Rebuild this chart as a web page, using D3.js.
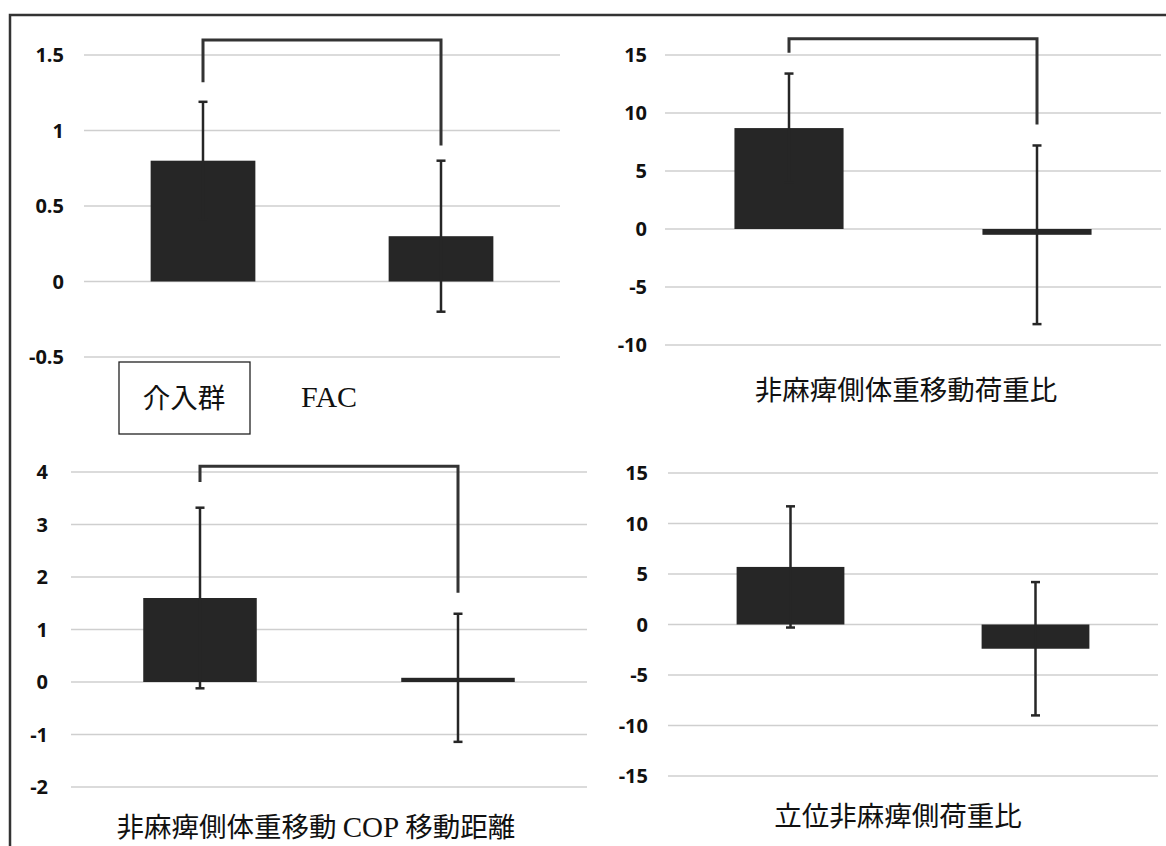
<!DOCTYPE html>
<html>
<head>
<meta charset="utf-8">
<script src="https://cdn.jsdelivr.net/npm/d3@7"></script>
<style>
    body { margin: 0; background: #fff; }
    .tick-label { font-family: "Open Sans", Lato, sans-serif; font-weight: 700; font-size: 20px; fill: #111; }
    .cjk { font-family: "Noto Sans CJK JP", sans-serif; font-size: 27.5px; fill: #111; }
    .serif { font-family: "Liberation Serif", serif; }
</style>
</head>
<body>
<div id="chart"></div>
<script>
// two groups in every panel (no axis labels in the original)
const groups = ['group1', 'group2'];

// FAC
const facMeans = [0.8, 0.3];
const facSD = [0.39, 0.5];
const facTicks = [-0.5, 0, 0.5, 1, 1.5];
const facBracket = [1.32, 1.6, 0.9];

// 非麻痺側体重移動荷重比
const shiftLoadMeans = [8.7, -0.5];
const shiftLoadSD = [4.7, 7.7];
const shiftLoadTicks = [-10, -5, 0, 5, 10, 15];
const shiftLoadBracket = [15.2, 16.4, 9.0];

// 非麻痺側体重移動 COP 移動距離
const copMeans = [1.6, 0.08];
const copSD = [1.72, 1.22];
const copTicks = [-2, -1, 0, 1, 2, 3, 4];
const copBracket = [3.81, 4.11, 1.7];

// 立位非麻痺側荷重比
const standMeans = [5.7, -2.4];
const standSD = [6.0, 6.6];
const standTicks = [-15, -10, -5, 0, 5, 10, 15];

const ink = '#262626';

const svg = d3.select('#chart')
    .append('svg')
    .attr('width', 1166)
    .attr('height', 846);

// outer frame (only top and left edges show in the scan)
svg.append('path')
    .attr('d', 'M10,846 L10,15 L1166,15')
    .attr('fill', 'none')
    .attr('stroke', '#333')
    .attr('stroke-width', 2.5);

function drawPanel(opt) {
    const y = d3.scaleLinear()
        .domain(d3.extent(opt.ticks))
        .range([opt.y1, opt.y0]);

    const x = d3.scalePoint()
        .domain(groups)
        .range([opt.x0, opt.x1])
        .padding(0.5);

    const barW = x.step() * 0.44;
    const g = svg.append('g');

    // gridlines
    g.selectAll('.grid')
        .data(opt.ticks)
        .enter()
        .append('line')
        .attr('x1', opt.x0)
        .attr('x2', opt.x1)
        .attr('y1', d => y(d))
        .attr('y2', d => y(d))
        .attr('stroke', '#cfcfcf')
        .attr('stroke-width', 1.5);

    // tick labels
    g.selectAll('.tick-label')
        .data(opt.ticks)
        .enter()
        .append('text')
        .attr('class', 'tick-label')
        .attr('x', opt.labelX)
        .attr('y', d => y(d))
        .attr('dy', '0.35em')
        .attr('text-anchor', 'end')
        .text(d => String(d));

    const data = groups.map((k, i) => ({ key: k, mean: opt.means[i], sd: opt.sd[i] }));

    // bars
    g.selectAll('.bar')
        .data(data)
        .enter()
        .append('rect')
        .attr('x', d => x(d.key) - barW / 2)
        .attr('width', barW)
        .attr('y', d => y(Math.max(0, d.mean)))
        .attr('height', d => Math.abs(y(d.mean) - y(0)))
        .attr('fill', ink);

    // error bars
    const err = g.selectAll('.err')
        .data(data)
        .enter()
        .append('g')
        .attr('stroke', ink)
        .attr('stroke-width', 2.5);

    err.append('line')
        .attr('x1', d => x(d.key))
        .attr('x2', d => x(d.key))
        .attr('y1', d => y(d.mean + d.sd))
        .attr('y2', d => y(d.mean - d.sd));

    err.selectAll('.cap')
        .data(d => [{ key: d.key, v: d.mean + d.sd }, { key: d.key, v: d.mean - d.sd }])
        .enter()
        .append('line')
        .attr('x1', d => x(d.key) - 4.5)
        .attr('x2', d => x(d.key) + 4.5)
        .attr('y1', d => y(d.v))
        .attr('y2', d => y(d.v));

    // significance bracket
    if (opt.bracket) {
        const b = opt.bracket;
        const xa = x(groups[0]), xb = x(groups[1]);
        g.append('path')
            .attr('d', `M${xa},${y(b[0])} L${xa},${y(b[1])} L${xb},${y(b[1])} L${xb},${y(b[2])}`)
            .attr('fill', 'none')
            .attr('stroke', '#333')
            .attr('stroke-width', 3);
    }
    return g;
}

drawPanel({ means: facMeans, sd: facSD, ticks: facTicks, bracket: facBracket,
    x0: 84, x1: 560, y0: 55, y1: 357, labelX: 64 });
drawPanel({ means: shiftLoadMeans, sd: shiftLoadSD, ticks: shiftLoadTicks, bracket: shiftLoadBracket,
    x0: 665, x1: 1161, y0: 55, y1: 345, labelX: 647 });
drawPanel({ means: copMeans, sd: copSD, ticks: copTicks, bracket: copBracket,
    x0: 71, x1: 587, y0: 472, y1: 787, labelX: 48 });
drawPanel({ means: standMeans, sd: standSD, ticks: standTicks,
    x0: 668, x1: 1158, y0: 473, y1: 776, labelX: 648 });

// legend box + FAC title
svg.append('rect')
    .attr('x', 119).attr('y', 362)
    .attr('width', 131).attr('height', 72)
    .attr('fill', '#fff')
    .attr('stroke', '#222')
    .attr('stroke-width', 1.3);

svg.append('text')
    .attr('class', 'cjk')
    .attr('x', 184).attr('y', 408)
    .attr('text-anchor', 'middle')
    .text('介入群');

svg.append('text')
    .attr('class', 'serif')
    .attr('x', 301).attr('y', 407)
    .style('font-size', '30px')
    .style('fill', '#111')
    .text('FAC');

// panel titles
svg.append('text')
    .attr('class', 'cjk')
    .attr('x', 906).attr('y', 400)
    .attr('text-anchor', 'middle')
    .text('非麻痺側体重移動荷重比');

const copTitle = svg.append('text')
    .attr('class', 'cjk')
    .attr('x', 316).attr('y', 837)
    .attr('text-anchor', 'middle');
copTitle.append('tspan').text('非麻痺側体重移動 ');
copTitle.append('tspan').attr('class', 'serif').style('font-size', '29px').text('COP');
copTitle.append('tspan').text(' 移動距離');

svg.append('text')
    .attr('class', 'cjk')
    .attr('x', 898).attr('y', 826)
    .attr('text-anchor', 'middle')
    .text('立位非麻痺側荷重比');
</script>
</body>
</html>
